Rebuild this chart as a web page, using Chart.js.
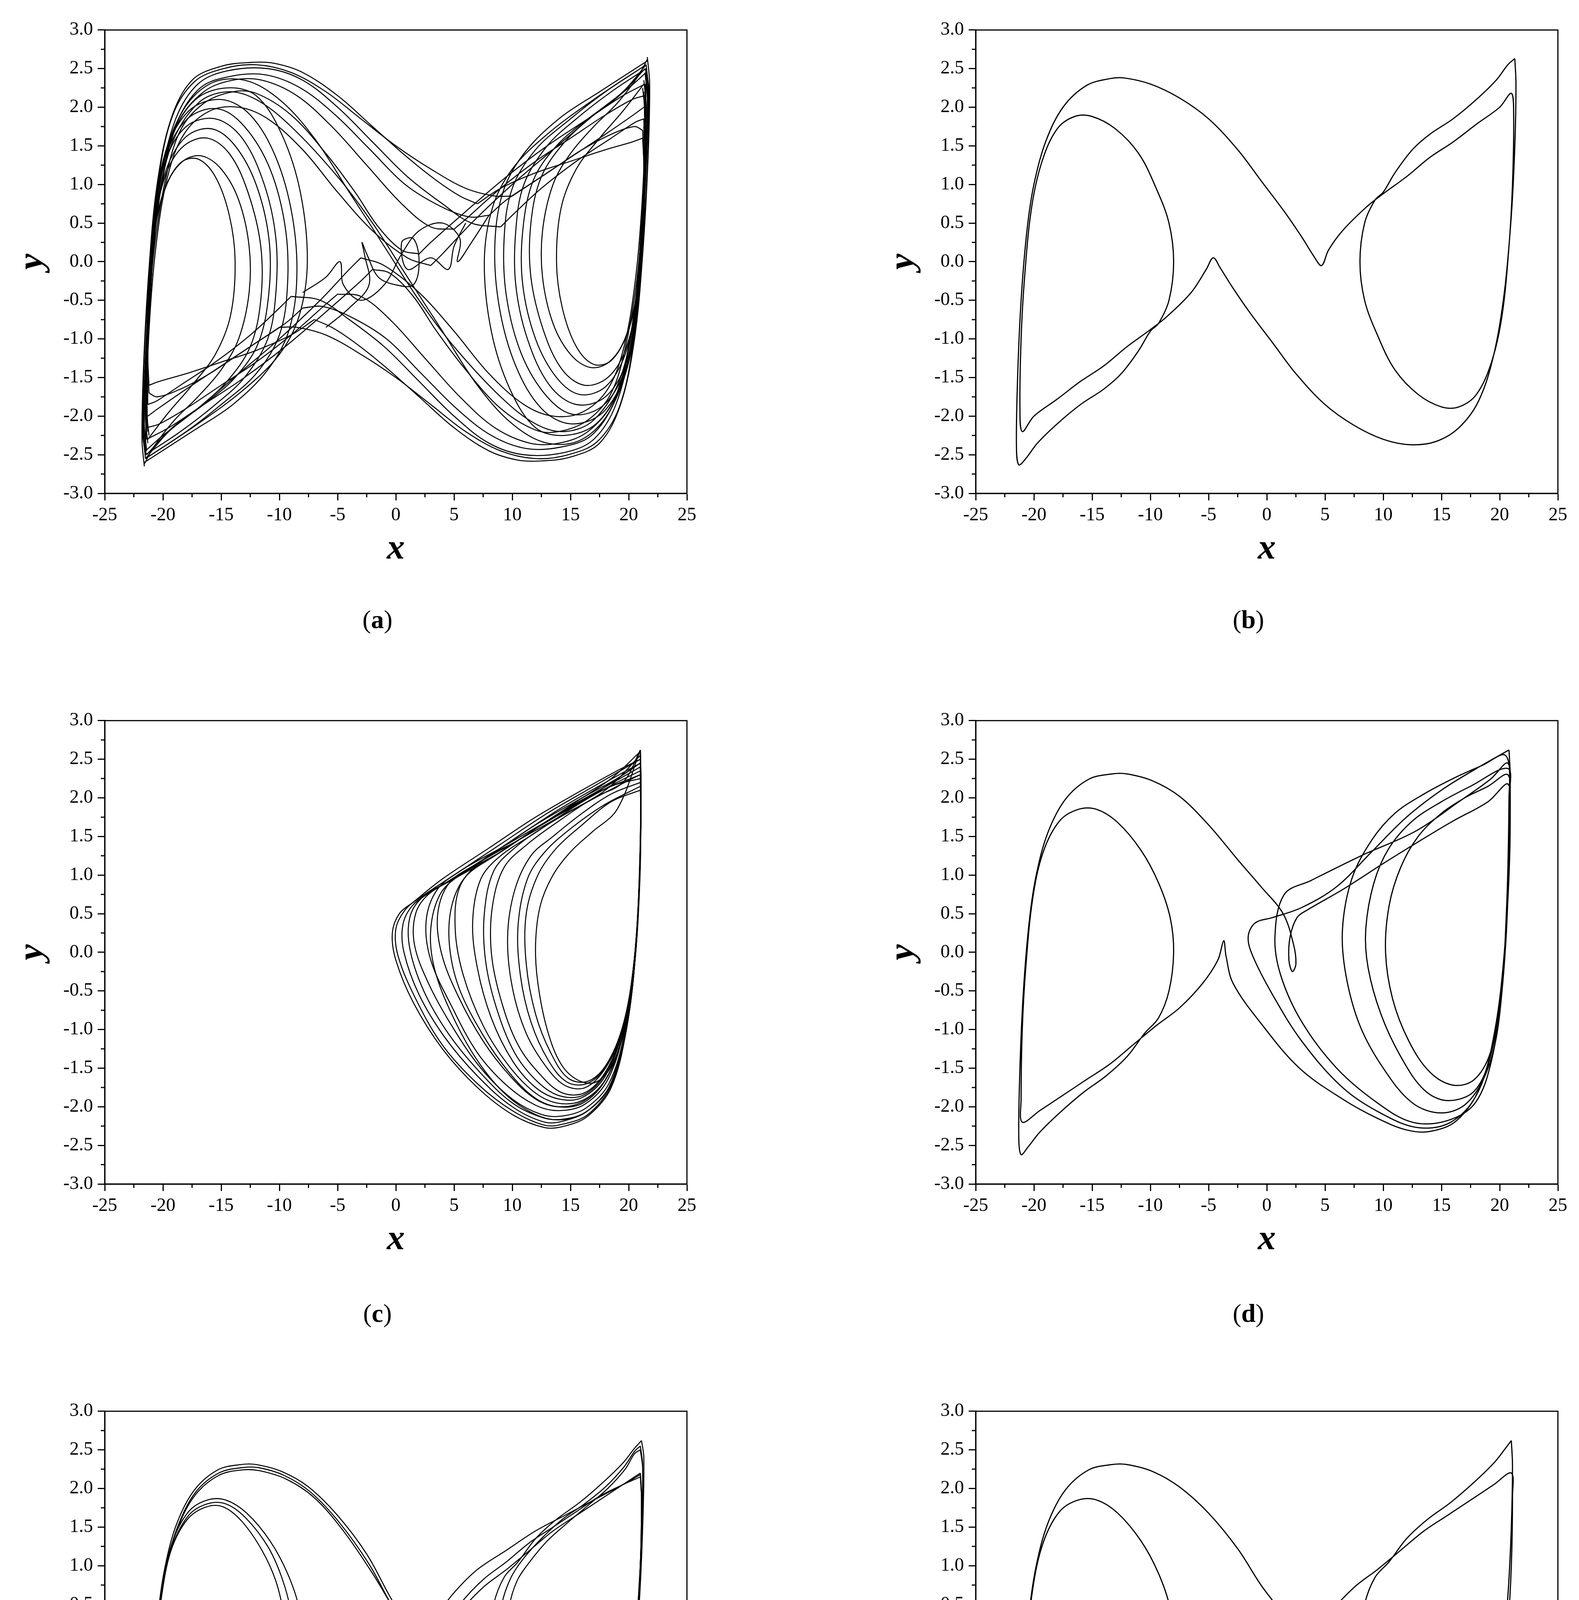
<!DOCTYPE html>
<html><head><meta charset="utf-8">
<script src="https://cdn.jsdelivr.net/npm/chart.js@4.4.1/dist/chart.umd.min.js"></script>
<style>
html,body{margin:0;padding:0;background:#fff;}
body{width:4041px;height:5203px;position:relative;overflow:hidden;}
.box{position:absolute;}
.cap{position:absolute;font-family:"Liberation Serif",serif;font-size:66px;color:#000;transform:translateX(-50%);white-space:nowrap;}
</style></head><body>
<script>
// ---------- axis ticks ----------
const xTicks = [-25,-20,-15,-10,-5,0,5,10,15,20,25];
const yTicks = [-3.0,-2.5,-2.0,-1.5,-1.0,-0.5,0.0,0.5,1.0,1.5,2.0,2.5,3.0];
const xMinor = [-22.5,-17.5,-12.5,-7.5,-2.5,2.5,7.5,12.5,17.5,22.5];
const yMinor = [-2.75,-2.25,-1.75,-1.25,-0.75,-0.25,0.25,0.75,1.25,1.75,2.25,2.75];
const captions = ["a","b","c","d","e","f"];

// ---------- panel (a): chaotic double scroll ----------
const aAL1=[-21.6,-2.65,-21.8,-2.3,-21.65,-1.3,-21.2,-0.1,-20.5,1.0,-19.3,1.85,-17.5,2.35,-15,2.53,-12.5,2.58,-10.5,2.57,-8,2.45,-5,2.15,-2,1.75,1,1.35,3.5,1.05,5.5,0.85,7,0.75];
const aAL2=[-21.5,-2.55,-21.7,-2.2,-21.5,-1.2,-21.0,0,-20.2,1.05,-18.9,1.85,-17,2.3,-14.5,2.47,-11,2.5,-8,2.35,-5,2.0,-2,1.55,1,1.1,4,0.75,6.5,0.5,9,0.45];
const aAL3=[-21.4,-2.45,-21.6,-2.1,-21.4,-1.1,-20.9,0.1,-20.0,1.1,-18.7,1.8,-16.5,2.2,-14,2.35,-11.5,2.35,-8.5,2.15,-5.5,1.75,-2.5,1.25,0.5,0.75,3,0.45,5,0.42];
const aAL4=[-21.3,-2.35,-21.5,-2.0,-21.3,-1.0,-20.8,0.1,-19.8,1.05,-18.5,1.7,-16.5,2.05,-14,2.2,-12,2.18,-9,1.9,-6,1.4,-3.5,0.9,-1.5,0.45,0.5,0.15,2,0.1];
const aAL5=[-21.2,-2.25,-21.4,-1.9,-21.2,-0.9,-20.6,0.2,-19.6,1.1,-18.2,1.65,-16,1.95,-13.5,2.0,-11,1.85,-8,1.45,-5,0.9,-2,0.4,1,0.05,3,-0.05];
const aAL6=[-21.5,-2.5,-21.75,-2.2,-21.6,-1.2,-21.1,0,-20.4,1.05,-19.2,1.88,-17.3,2.33,-14.8,2.5,-12,2.55,-9,2.45,-6,2.2,-3,1.85,0,1.5,3,1.2,6,0.95,8.5,0.85,10,0.85];
const aAL7=[-21.45,-2.5,-21.65,-2.15,-21.45,-1.15,-20.95,0.05,-20.1,1.05,-18.8,1.8,-16.8,2.25,-14.2,2.4,-11.2,2.42,-8.2,2.25,-5.2,1.9,-2.2,1.45,0.8,1.0,3.8,0.72,6.3,0.58,8,0.6];
const aAR1=[21.6,2.65,21.8,2.3,21.65,1.3,21.2,0.1,20.5,-1.0,19.3,-1.85,17.5,-2.35,15,-2.53,12.5,-2.58,10.5,-2.57,8,-2.45,5,-2.15,2,-1.75,-1,-1.35,-3.5,-1.05,-5.5,-0.85,-7,-0.75];
const aAR2=[21.5,2.55,21.7,2.2,21.5,1.2,21.0,0,20.2,-1.05,18.9,-1.85,17,-2.3,14.5,-2.47,11,-2.5,8,-2.35,5,-2.0,2,-1.55,-1,-1.1,-4,-0.75,-6.5,-0.5,-9,-0.45];
const aAR3=[21.4,2.45,21.6,2.1,21.4,1.1,20.9,-0.1,20.0,-1.1,18.7,-1.8,16.5,-2.2,14,-2.35,11.5,-2.35,8.5,-2.15,5.5,-1.75,2.5,-1.25,-0.5,-0.75,-3,-0.45,-5,-0.42];
const aAR4=[21.3,2.35,21.5,2.0,21.3,1.0,20.8,-0.1,19.8,-1.05,18.5,-1.7,16.5,-2.05,14,-2.2,12,-2.18,9,-1.9,6,-1.4,3.5,-0.9,1.5,-0.45,-0.5,-0.15,-2,-0.1];
const aAR5=[21.2,2.25,21.4,1.9,21.2,0.9,20.6,-0.2,19.6,-1.1,18.2,-1.65,16,-1.95,13.5,-2.0,11,-1.85,8,-1.45,5,-0.9,2,-0.4,-1,-0.05,-3,0.05];
const aAR6=[21.5,2.5,21.75,2.2,21.6,1.2,21.1,0,20.4,-1.05,19.2,-1.88,17.3,-2.33,14.8,-2.5,12,-2.55,9,-2.45,6,-2.2,3,-1.85,0,-1.5,-3,-1.2,-6,-0.95,-8.5,-0.85,-10,-0.85];
const aAR7=[21.45,2.5,21.65,2.15,21.45,1.15,20.95,-0.05,20.1,-1.05,18.8,-1.8,16.8,-2.25,14.2,-2.4,11.2,-2.42,8.2,-2.25,5.2,-1.9,2.2,-1.45,-0.8,-1.0,-3.8,-0.72,-6.3,-0.58,-8,-0.6];
const aCR1=[7,0.75,9,0.95,12,1.15,15,1.3,18,1.45,20.3,1.55,21.2,1.6];
const aCR2=[9,0.45,10,0.6,12.5,0.95,15.5,1.3,18.5,1.6,20.5,1.8,21.3,1.85];
const aCR3=[5,0.42,6,0.55,9,0.95,12,1.3,15,1.6,18,1.9,20.3,2.1,21.4,2.15];
const aCR4=[2,0.1,3,0.25,6,0.65,9.5,1.1,13,1.5,16.5,1.85,19.5,2.15,21.4,2.3];
const aCR5=[3,-0.05,4,0.1,6.5,0.5,10,1.0,13.5,1.45,17,1.9,20,2.25,21.5,2.45];
const aCR6=[10,0.85,11,0.95,13.5,1.2,16,1.45,18.5,1.65,20.5,1.75,21.2,1.7];
const aCR7=[8,0.6,9.5,0.8,12,1.05,15,1.35,18,1.65,20.4,1.9,21.3,2.0];
const aCL1=[-7,-0.75,-9,-0.95,-12,-1.15,-15,-1.3,-18,-1.45,-20.3,-1.55,-21.2,-1.6];
const aCL2=[-9,-0.45,-10,-0.6,-12.5,-0.95,-15.5,-1.3,-18.5,-1.6,-20.5,-1.8,-21.3,-1.85];
const aCL3=[-5,-0.42,-6,-0.55,-9,-0.95,-12,-1.3,-15,-1.6,-18,-1.9,-20.3,-2.1,-21.4,-2.15];
const aCL4=[-2,-0.1,-3,-0.25,-6,-0.65,-9.5,-1.1,-13,-1.5,-16.5,-1.85,-19.5,-2.15,-21.4,-2.3];
const aCL5=[-3,0.05,-4,-0.1,-6.5,-0.5,-10,-1.0,-13.5,-1.45,-17,-1.9,-20,-2.25,-21.5,-2.45];
const aCL6=[-10,-0.85,-11,-0.95,-13.5,-1.2,-16,-1.45,-18.5,-1.65,-20.5,-1.75,-21.2,-1.7];
const aCL7=[-8,-0.6,-9.5,-0.8,-12,-1.05,-15,-1.35,-18,-1.65,-20.4,-1.9,-21.3,-2.0];
const aRL1=[21.2,1.6,21.3,1.2,21.1,0.3,20.6,-0.5,19.7,-1.0,18.3,-1.3,16.7,-1.37,15,-1.2,13.5,-0.8,12.6,-0.2,12.6,0.4,13.5,1.0,15,1.4,17,1.75,19,2.05,20.8,2.4,21.6,2.62];
const aRL2=[21.3,1.85,21.35,1.4,21.2,0.4,20.7,-0.5,19.7,-1.15,18.2,-1.5,16.2,-1.6,14.3,-1.4,12.7,-0.9,11.6,-0.2,11.6,0.5,12.5,1.1,14.5,1.55,17,1.9,19.5,2.2,21.5,2.55];
const aRL3=[21.4,2.15,21.4,1.6,21.25,0.5,20.8,-0.5,19.8,-1.3,18,-1.75,15.5,-1.85,13.2,-1.6,11.3,-1.0,10.3,-0.3,10.3,0.4,11,1.0,13,1.5,15.5,1.85,18.5,2.2,21.5,2.5];
const aRL4=[21.4,2.3,21.45,1.7,21.3,0.6,20.8,-0.5,19.8,-1.4,17.8,-1.95,15,-2.1,12.5,-1.9,10.3,-1.35,8.9,-0.6,8.5,0.2,9.2,0.9,11,1.4,14,1.85,17.5,2.2,21.6,2.6];
const aRL5=[21.5,2.45,21.4,1.6,21.2,0.5,20.7,-0.4,19.8,-0.95,18.5,-1.28,17,-1.33,15.5,-1.1,14.3,-0.6,13.8,0,14.2,0.7,15.5,1.2,17.5,1.6,19.5,1.95,21.3,2.3];
const aRL6=[21.2,1.7,21.3,1.2,21.1,0.2,20.5,-0.8,19.3,-1.6,17.2,-2.1,14.5,-2.25,12,-2.15,9.8,-1.65,8.2,-0.9,7.6,0,8.3,0.7,10,1.2,13,1.65,17,2.1,21.5,2.55];
const aRL7=[21.3,1.75,21.35,1.3,21.2,0.4,20.7,-0.5,19.7,-1.2,18,-1.62,15.8,-1.72,13.8,-1.5,12,-1.0,10.9,-0.3,10.9,0.4,11.8,1.05,13.8,1.5,16.5,1.85,19.2,2.15,21.4,2.5];
const aRL8=[21.35,2.0,21.4,1.5,21.25,0.5,20.8,-0.5,19.8,-1.35,17.9,-1.85,15.3,-1.98,13,-1.75,10.8,-1.2,9.5,-0.45,9.3,0.3,10,0.95,12,1.45,15,1.85,18,2.2,21.5,2.55];
const aLL1=[-21.2,-1.6,-21.3,-1.2,-21.1,-0.3,-20.6,0.5,-19.7,1.0,-18.3,1.3,-16.7,1.37,-15,1.2,-13.5,0.8,-12.6,0.2,-12.6,-0.4,-13.5,-1.0,-15,-1.4,-17,-1.75,-19,-2.05,-20.8,-2.4,-21.6,-2.62];
const aLL2=[-21.3,-1.85,-21.35,-1.4,-21.2,-0.4,-20.7,0.5,-19.7,1.15,-18.2,1.5,-16.2,1.6,-14.3,1.4,-12.7,0.9,-11.6,0.2,-11.6,-0.5,-12.5,-1.1,-14.5,-1.55,-17,-1.9,-19.5,-2.2,-21.5,-2.55];
const aLL3=[-21.4,-2.15,-21.4,-1.6,-21.25,-0.5,-20.8,0.5,-19.8,1.3,-18,1.75,-15.5,1.85,-13.2,1.6,-11.3,1.0,-10.3,0.3,-10.3,-0.4,-11,-1.0,-13,-1.5,-15.5,-1.85,-18.5,-2.2,-21.5,-2.5];
const aLL4=[-21.4,-2.3,-21.45,-1.7,-21.3,-0.6,-20.8,0.5,-19.8,1.4,-17.8,1.95,-15,2.1,-12.5,1.9,-10.3,1.35,-8.9,0.6,-8.5,-0.2,-9.2,-0.9,-11,-1.4,-14,-1.85,-17.5,-2.2,-21.6,-2.6];
const aLL5=[-21.5,-2.45,-21.4,-1.6,-21.2,-0.5,-20.7,0.4,-19.8,0.95,-18.5,1.28,-17,1.33,-15.5,1.1,-14.3,0.6,-13.8,0,-14.2,-0.7,-15.5,-1.2,-17.5,-1.6,-19.5,-1.95,-21.3,-2.3];
const aLL6=[-21.2,-1.7,-21.3,-1.2,-21.1,-0.2,-20.5,0.8,-19.3,1.6,-17.2,2.1,-14.5,2.25,-12,2.15,-9.8,1.65,-8.2,0.9,-7.6,0,-8.3,-0.7,-10,-1.2,-13,-1.65,-17,-2.1,-21.5,-2.55];
const aLL7=[-21.3,-1.75,-21.35,-1.3,-21.2,-0.4,-20.7,0.5,-19.7,1.2,-18,1.62,-15.8,1.72,-13.8,1.5,-12,1.0,-10.9,0.3,-10.9,-0.4,-11.8,-1.05,-13.8,-1.5,-16.5,-1.85,-19.2,-2.15,-21.4,-2.5];
const aLL8=[-21.35,-2.0,-21.4,-1.5,-21.25,-0.5,-20.8,0.5,-19.8,1.35,-17.9,1.85,-15.3,1.98,-13,1.75,-10.8,1.2,-9.5,0.45,-9.3,-0.3,-10,-0.95,-12,-1.45,-15,-1.85,-18,-2.2,-21.5,-2.55];
const aS1=[-21.3,-2.2,-21.4,-1.6,-21.1,-0.5,-20.5,0.6,-19.3,1.5,-17,2.05,-14.5,2.2,-12,2.1,-9,1.75,-5,1.1,-2,0.5,1,-0.2,4,-0.9,7,-1.6,10,-2.1,13,-2.35,16,-2.3,18.5,-1.9,20.3,-1.1,21.2,0.2,21.5,2.0];
const aS2=[21.3,2.2,21.4,1.6,21.1,0.5,20.5,-0.6,19.3,-1.5,17,-2.05,14.5,-2.2,12,-2.1,9,-1.75,5,-1.1,2,-0.5,-1,0.2,-4,0.9,-7,1.6,-10,2.1,-13,2.35,-16,2.3,-18.5,1.9,-20.3,1.1,-21.2,-0.2,-21.5,-2.0];
const aMid1=[-6,-0.85,-4,-0.6,-2.3,-0.3,-2.7,0.1,-2.9,0.25,-2.5,0.1,-1.5,-0.2,0,-0.3,1.5,-0.3,2,0,1.5,0.3,0.5,0.25,1,-0.1,3,0.05,4.5,-0.1,5,0.2,6,0.5];
const aMid2=[-8,-0.4,-6,-0.2,-4.8,0.0,-4.5,-0.3,-3,-0.5,-1,-0.3,0.5,0.1,2,0.4,4,0.5,5.5,0.3,5.3,0.0,6.5,0.25,8,0.6];
const curvesA=[aAL1,aAL2,aAL3,aAL4,aAL5,aAL6,aAL7,aAR1,aAR2,aAR3,aAR4,aAR5,aAR6,aAR7,aCR1,aCR2,aCR3,aCR4,aCR5,aCR6,aCR7,aCL1,aCL2,aCL3,aCL4,aCL5,aCL6,aCL7,aRL1,aRL2,aRL3,aRL4,aRL5,aRL6,aRL7,aRL8,aLL1,aLL2,aLL3,aLL4,aLL5,aLL6,aLL7,aLL8,aS1,aS2,aMid1,aMid2];

// ---------- panel (b): periodic orbit ----------
const bOrbit=[21.3,2.63,21.4,2.3,21.3,1.5,21.0,0.6,20.4,-0.4,19.5,-1.2,18.2,-1.8,16.5,-2.15,14.5,-2.33,12.3,-2.37,10,-2.3,7.5,-2.12,5,-1.85,2.5,-1.45,0.5,-1.05,-1.5,-0.65,-3,-0.32,-4,-0.08,-4.6,0.05,-5.2,-0.1,-6.5,-0.4,-8.5,-0.7,-10,-0.88,-12,-1.1,-14,-1.35,-16,-1.55,-18,-1.78,-20,-2.0,-21,-2.2,-21.2,-1.9,-21.1,-1.0,-20.8,-0.2,-20.2,0.7,-19.3,1.3,-18,1.72,-16.5,1.88,-15,1.88,-13,1.72,-11,1.4,-9.5,0.95,-8.4,0.5,-8,0.0,-8.4,-0.5,-9.3,-0.8,-10,-0.9,-11,-1.15,-12.5,-1.45,-14,-1.65,-16,-1.85,-18,-2.1,-19.7,-2.35,-20.7,-2.55,-21.3,-2.63,-21.5,-2.4,-21.4,-1.5,-21.1,-0.5,-20.6,0.4,-20,1.0,-19,1.55,-17.5,2.0,-15.5,2.28,-13.5,2.37,-12.3,2.38,-10,2.3,-7.5,2.12,-5,1.85,-2.5,1.45,-0.5,1.05,1.5,0.65,3,0.32,4,0.08,4.7,-0.05,5.3,0.15,6.5,0.4,8.5,0.7,10,0.88,12,1.1,14,1.35,16,1.55,18,1.78,20,2.0,21,2.18,21.2,1.9,21.1,1.0,20.8,0.2,20.2,-0.7,19.3,-1.3,18,-1.72,16.5,-1.88,15,-1.88,13,-1.72,11,-1.4,9.5,-0.95,8.4,-0.5,8,0,8.4,0.5,9.3,0.8,10,0.9,11,1.15,12.5,1.45,14,1.65,16,1.85,18,2.1,19.7,2.35,20.7,2.55,21.3,2.63];
const curvesB=[bOrbit];

// ---------- panel (c): single-scroll chaotic ----------
const c1=[21,2.62,21.05,2.2,20.95,1.2,20.6,0,19.8,-1.0,18.5,-1.75,16.5,-2.12,14.5,-2.25,12.8,-2.27,10,-2.1,7,-1.75,4,-1.25,1.5,-0.65,0,-0.1,-0.3,0.25,0.3,0.5,1.5,0.65,4,0.95,8,1.35,12,1.75,16,2.1,19,2.35,21,2.5];
const c2=[21,2.5,21.05,2.1,20.95,1.1,20.6,0,19.8,-1.0,18.5,-1.7,16.5,-2.05,14.5,-2.18,12.8,-2.2,10,-2.0,7,-1.6,4.2,-1.1,2,-0.55,0.7,0,0.6,0.35,1.4,0.6,3,0.78,6,1.05,10,1.45,14,1.85,18,2.2,21,2.45];
const c3=[21,2.45,21.05,2.0,20.95,1.0,20.55,0,19.7,-1.0,18.3,-1.7,16.3,-2.02,14.3,-2.12,12.5,-2.1,10,-1.9,7.3,-1.5,4.8,-0.95,2.8,-0.4,1.6,0.1,1.7,0.5,2.8,0.75,5,0.95,8.5,1.25,12,1.6,16,1.95,19,2.2,21,2.35];
const c4=[21,2.35,21.05,1.9,20.9,0.9,20.5,-0.1,19.6,-1.0,18.2,-1.65,16.2,-1.97,14,-2.05,12,-1.98,9.5,-1.72,7,-1.3,4.8,-0.7,3.0,-0.1,2.6,0.4,3.5,0.8,5.5,1.05,9,1.35,13,1.7,17,2.05,21,2.3];
const c5=[21,2.3,21.05,1.8,20.9,0.8,20.5,-0.1,19.6,-1.0,18.2,-1.6,16.2,-1.92,14,-2.0,12,-1.9,9.8,-1.6,7.5,-1.15,5.3,-0.55,3.9,0,3.6,0.5,4.6,0.9,7,1.15,10.5,1.45,14,1.75,18,2.1,21,2.55];
const c6=[21,2.55,21.05,2.0,20.9,0.8,20.45,-0.2,19.5,-1.05,18,-1.65,16,-1.92,13.8,-1.95,11.8,-1.8,9.6,-1.45,7.5,-0.95,5.8,-0.3,5.1,0.3,5.5,0.85,7.5,1.2,10.5,1.45,14,1.8,17.5,2.1,21,2.4];
const c7=[21,2.4,21.05,1.9,20.9,0.8,20.45,-0.2,19.5,-1.0,18,-1.6,16,-1.88,14,-1.9,12,-1.75,10,-1.4,8.2,-0.85,7,-0.2,6.6,0.4,7.3,0.95,9,1.25,12,1.55,15.5,1.9,18.5,2.15,21,2.25];
const c8=[21,2.25,21.05,1.8,20.9,0.8,20.4,-0.2,19.5,-1.0,18,-1.55,16.2,-1.82,14.3,-1.82,12.5,-1.6,10.5,-1.2,9,-0.6,8.2,0,8.3,0.6,9.3,1.1,11.3,1.4,14,1.7,17,2.0,19.5,2.2,21,2.62];
const c9=[21,2.62,21.05,2.1,20.9,0.9,20.4,-0.2,19.5,-1.0,18,-1.5,16.3,-1.75,14.6,-1.73,13,-1.5,11.2,-1.05,10,-0.45,9.6,0.2,10.2,0.8,11.6,1.25,13.5,1.5,16,1.8,18.5,2.05,21,2.2];
const c10=[21,2.2,21.05,1.8,20.9,0.8,20.4,-0.2,19.5,-0.95,18.1,-1.45,16.5,-1.67,14.8,-1.63,13.3,-1.3,12,-0.8,11.2,-0.15,11.2,0.5,12.2,1.0,13.8,1.35,16,1.65,18.5,1.95,21,2.1];
const c11=[21,2.1,21.05,1.7,20.95,0.9,20.6,0,19.8,-0.9,18.6,-1.45,17.2,-1.68,15.7,-1.66,14.2,-1.45,13,-1.0,12.2,-0.4,12.0,0.1,12.4,0.6,13.5,1.0,15,1.3,16.8,1.55,19,1.85,21,2.62];
const c12=[21,2.62,21.05,2.2,20.95,1.1,20.55,0,19.7,-1.0,18.3,-1.75,16.2,-2.08,14,-2.17,12,-2.1,9.5,-1.85,7,-1.4,4.8,-0.8,3.3,-0.2,3,0.3,3.8,0.75,5.5,1.0,9,1.3,13,1.7,17,2.05,21,2.45];
const c13=[21,2.45,21.05,2.1,20.95,1.1,20.6,0,19.8,-1.0,18.5,-1.72,16.5,-2.1,14.5,-2.22,12.8,-2.24,10,-2.05,7,-1.7,4,-1.2,1.7,-0.6,0.2,-0.05,0.0,0.3,0.8,0.55,2,0.7,5,1.0,9,1.4,13,1.8,17,2.15,21,2.5];
const c14=[21,2.4,21.05,1.95,20.9,0.85,20.5,-0.15,19.6,-1.02,18.1,-1.63,16.1,-1.95,13.9,-2.0,11.9,-1.88,9.7,-1.55,7.4,-1.05,5.4,-0.45,4.6,0.1,4.8,0.6,6,0.98,8.5,1.25,12,1.6,15.5,1.95,18.5,2.25,21,2.6];
const c15=[21,2.6,21.05,2.0,20.9,0.8,20.45,-0.2,19.5,-1.0,18,-1.57,16.1,-1.85,14.1,-1.86,12.2,-1.68,10.2,-1.3,8.6,-0.7,7.7,-0.1,7.6,0.5,8.4,1.05,10.2,1.35,13,1.65,16.5,1.95,19,2.15,21,2.3];
const c16=[21,2.3,21.05,1.8,20.9,0.8,20.4,-0.2,19.5,-0.98,18.05,-1.48,16.4,-1.7,14.7,-1.68,13.1,-1.4,11.6,-0.9,10.7,-0.3,10.5,0.35,11.3,0.95,12.8,1.3,15,1.6,17.8,1.9,21,2.15];
const c17=[21,2.15,21.05,1.8,20.95,1.0,20.55,0,19.7,-1.0,18.4,-1.72,16.4,-2.06,14.4,-2.16,12.6,-2.14,10,-1.95,7.2,-1.55,4.5,-1.05,2.4,-0.5,1.2,0.05,1.2,0.45,2.2,0.7,4.5,0.92,8,1.25,12,1.65,16,2.0,19,2.25,21,2.45];
const curvesC=[c1,c2,c3,c4,c5,c6,c7,c8,c9,c10,c11,c12,c13,c14,c15,c16,c17];

// ---------- panel (d): multi-loop periodic orbit ----------
const dOrbit=[20.8,2.62,20.9,2.3,20.85,1.2,20.4,0,19.6,-1.0,18.3,-1.75,16.3,-2.18,14,-2.32,12,-2.3,9.5,-2.15,6.5,-1.9,2.8,-1.5,-0.5,-0.92,-2.9,-0.4,-3.5,-0.05,-3.7,0.15,
-4.2,-0.1,-5.5,-0.4,-7.5,-0.72,-9.5,-0.95,-11.5,-1.2,-13.5,-1.45,-15.5,-1.65,-17.5,-1.85,-19.5,-2.05,-21,-2.2,
-21.1,-1.9,-21.0,-1.0,-20.7,-0.2,-20.1,0.7,-19.2,1.3,-17.8,1.7,-16.2,1.85,-14.6,1.85,-12.8,1.68,-10.8,1.32,-9.3,0.9,-8.3,0.45,-8,0.0,-8.4,-0.5,-9.3,-0.85,-10.5,-1.05,-12,-1.35,-13.8,-1.6,-15.8,-1.82,-17.8,-2.08,-19.5,-2.33,-20.5,-2.52,-21.1,-2.62,
-21.3,-2.4,-21.2,-1.5,-20.9,-0.5,-20.4,0.4,-19.8,1.0,-18.8,1.55,-17.3,1.98,-15.3,2.24,-13.3,2.31,-12,2.31,-9.8,2.22,-7.5,2.02,-5,1.65,-2.5,1.2,-0.5,0.85,1.4,0.5,2.3,0.1,2.5,-0.15,2.2,-0.25,1.9,-0.1,2.0,0.2,2.6,0.45,3.5,0.55,6.6,0.82,10,1.15,13,1.43,16,1.7,19,1.95,20.7,2.18,
20.8,1.8,20.6,0.6,20.1,-0.6,19.2,-1.3,17.8,-1.65,16,-1.72,14,-1.55,12.2,-1.15,10.8,-0.6,10.2,0,10.5,0.6,11.5,1.1,13,1.5,15,1.8,17,2.0,19,2.15,20.7,2.3,
20.8,1.9,20.7,0.7,20.2,-0.5,19.3,-1.4,17.9,-1.95,15.5,-2.18,12.5,-2.2,9.5,-1.95,6,-1.5,3,-0.9,1.2,-0.3,0.7,0.2,1.5,0.75,3.8,0.93,8.1,1.25,12.8,1.57,16.5,1.95,19.2,2.24,20.7,2.45,
20.8,2.0,20.6,0.6,20.1,-0.6,19.2,-1.35,17.8,-1.8,15.5,-1.92,13.5,-1.78,11.5,-1.35,9.8,-0.8,8.7,-0.2,8.5,0.3,9.2,0.9,10.5,1.35,12.5,1.7,15,1.95,17.5,2.15,20.7,2.38,
20.8,2.0,20.6,0.6,20.0,-0.8,19,-1.5,17.2,-1.95,15,-2.08,12.5,-1.95,10,-1.5,8,-0.95,6.8,-0.3,6.5,0.3,7.3,0.95,9,1.45,11,1.8,13.5,2.05,16,2.25,18.5,2.42,20.5,2.55,
20.85,2.1,20.75,0.9,20.3,-0.3,19.4,-1.2,18,-1.85,15.8,-2.2,13,-2.27,10,-2.1,6.5,-1.75,3,-1.15,0.5,-0.55,-1.2,-0.05,-1.6,0.2,-1.0,0.38,0.5,0.45,3,0.58,6,0.85,9,1.3,12,1.75,15,2.1,18,2.38,20.8,2.62];
const curvesD=[dOrbit];

// ---------- panel (e): chaotic, banded ----------
const eO1=[-21.1,-2.62,-21.3,-2.4,-21.2,-1.5,-20.9,-0.5,-20.4,0.4,-19.8,1.0,-18.8,1.55,-17.3,1.98,-15.3,2.24,-13.3,2.31,-12,2.31,-9.8,2.22,-7.5,2.02,-5,1.65,-2.5,1.15,-0.5,0.6,1.5,0.1,2.8,-0.2,3.6,-0.3];
const eO2=[-21,-2.55,-21.2,-2.3,-21.1,-1.4,-20.8,-0.5,-20.3,0.4,-19.7,1.0,-18.7,1.52,-17.2,1.95,-15.2,2.2,-13.2,2.27,-11.8,2.27,-9.6,2.17,-7.3,1.95,-4.8,1.55,-2.3,1.02,-0.4,0.5,1.4,0.05,2.5,-0.15,3.2,-0.2];
const eO3=[-21,-2.5,-21.2,-2.25,-21.1,-1.4,-20.8,-0.5,-20.3,0.4,-19.7,0.98,-18.7,1.5,-17.2,1.92,-15.2,2.17,-13.2,2.24,-11.7,2.23,-9.4,2.12,-7,1.88,-4.5,1.45,-2,0.9,0,0.4,1.8,0.0,2.8,-0.05,3.5,0.0];
const eR1=[21.1,2.62,21.3,2.4,21.2,1.5,20.9,0.5,20.4,-0.4,19.8,-1.0,18.8,-1.55,17.3,-1.98,15.3,-2.24,13.3,-2.31,12,-2.31,9.8,-2.22,7.5,-2.02,5,-1.65,2.5,-1.15,0.5,-0.6,-1.5,-0.1,-2.8,0.2,-3.6,0.3];
const eR2=[21,2.55,21.2,2.3,21.1,1.4,20.8,0.5,20.3,-0.4,19.7,-1.0,18.7,-1.52,17.2,-1.95,15.2,-2.2,13.2,-2.27,11.8,-2.27,9.6,-2.17,7.3,-1.95,4.8,-1.55,2.3,-1.02,0.4,-0.5,-1.4,-0.05,-2.5,0.15,-3.2,0.2];
const eR3=[21,2.5,21.2,2.25,21.1,1.4,20.8,0.5,20.3,-0.4,19.7,-0.98,18.7,-1.5,17.2,-1.92,15.2,-2.17,13.2,-2.24,11.7,-2.23,9.4,-2.12,7,-1.88,4.5,-1.45,2,-0.9,0,-0.4,-1.8,0.0,-2.8,0.05,-3.5,0.0];
const eCL1=[-3.5,0.12,-4.2,-0.1,-5.5,-0.4,-7.5,-0.72,-9.5,-0.95,-11.5,-1.2,-13.5,-1.45,-15.5,-1.65,-17.5,-1.85,-19.5,-2.05,-21,-2.2];
const eCL2=[-3.2,0.1,-4,-0.15,-5.5,-0.5,-7.5,-0.82,-9.5,-1.05,-11.5,-1.3,-13.5,-1.5,-15.5,-1.7,-17.5,-1.9,-19.5,-2.05,-21,-2.15];
const eCL3=[-2.5,-0.1,-3.5,-0.35,-5,-0.65,-7,-0.95,-9.5,-1.2,-12,-1.45,-14.5,-1.65,-17,-1.85,-19.5,-2.05,-21,-2.18];
const eCR1=[3.5,-0.12,4.2,0.1,5.5,0.4,7.5,0.72,9.5,0.95,11.5,1.2,13.5,1.45,15.5,1.65,17.5,1.85,19.5,2.05,21,2.2];
const eCR2=[3.2,-0.1,4,0.15,5.5,0.5,7.5,0.82,9.5,1.05,11.5,1.3,13.5,1.5,15.5,1.7,17.5,1.9,19.5,2.05,21,2.15];
const eCR3=[2.5,0.1,3.5,0.35,5,0.65,7,0.95,9.5,1.2,12,1.45,14.5,1.65,17,1.85,19.5,2.05,21,2.18];
const eL1=[-21,-2.2,-21.1,-1.9,-21.0,-1.0,-20.7,-0.2,-20.1,0.7,-19.2,1.3,-17.8,1.7,-16.2,1.85,-14.6,1.85,-12.8,1.68,-10.8,1.32,-9.3,0.9,-8.3,0.45,-8,0.0,-8.4,-0.5,-9.3,-0.85,-10.5,-1.05,-12,-1.35,-13.8,-1.6,-15.8,-1.82,-17.8,-2.08,-19.5,-2.33,-20.5,-2.52,-21.1,-2.62];
const eL2=[-21,-2.15,-21.1,-1.85,-21.0,-1.0,-20.7,-0.2,-20.1,0.65,-19.2,1.25,-17.8,1.65,-16.2,1.8,-14.6,1.8,-12.9,1.62,-11,1.25,-9.8,0.85,-9.0,0.4,-8.8,0.0,-9.1,-0.5,-9.9,-0.85,-11,-1.1,-12.5,-1.35,-14.3,-1.6,-16.2,-1.8,-18,-2.02,-19.6,-2.28,-20.5,-2.48,-21,-2.55];
const eL3=[-21,-2.18,-21.1,-1.85,-21.0,-1.0,-20.7,-0.2,-20.1,0.62,-19.3,1.2,-17.9,1.6,-16.3,1.76,-14.8,1.76,-13.2,1.57,-11.5,1.2,-10.3,0.8,-9.6,0.35,-9.4,0.0,-9.7,-0.45,-10.4,-0.8,-11.5,-1.05,-13,-1.32,-14.7,-1.55,-16.5,-1.78,-18.2,-2.0,-19.7,-2.25,-20.5,-2.45,-21,-2.5];
const eRL1=[21,2.2,21.1,1.9,21.0,1.0,20.7,0.2,20.1,-0.7,19.2,-1.3,17.8,-1.7,16.2,-1.85,14.6,-1.85,12.8,-1.68,10.8,-1.32,9.3,-0.9,8.3,-0.45,8,0.0,8.4,0.5,9.3,0.85,10.5,1.05,12,1.35,13.8,1.6,15.8,1.82,17.8,2.08,19.5,2.33,20.5,2.52,21.1,2.62];
const eRL2=[21,2.15,21.1,1.85,21.0,1.0,20.7,0.2,20.1,-0.65,19.2,-1.25,17.8,-1.65,16.2,-1.8,14.6,-1.8,12.9,-1.62,11,-1.25,9.8,-0.85,9.0,-0.4,8.8,0.0,9.1,0.5,9.9,0.85,11,1.1,12.5,1.35,14.3,1.6,16.2,1.8,18,2.02,19.6,2.28,20.5,2.48,21,2.55];
const eRL3=[21,2.18,21.1,1.85,21.0,1.0,20.7,0.2,20.1,-0.62,19.3,-1.2,17.9,-1.6,16.3,-1.76,14.8,-1.76,13.2,-1.57,11.5,-1.2,10.3,-0.8,9.6,-0.35,9.4,0.0,9.7,0.45,10.4,0.8,11.5,1.05,13,1.32,14.7,1.55,16.5,1.78,18.2,2.0,19.7,2.25,20.5,2.45,21,2.5];
const eM1=[-3.6,0.12,-2.5,0.3,-1.5,0.3,-1,0,-1.5,-0.3,-2.2,-0.2,-1.8,0.1,-0.5,0.2,0.5,0.0,0.3,-0.3,-0.3,-0.2,0.5,0.1,1.8,0.1,2.5,-0.2,3.6,-0.12];
const eM2=[-3.2,0.1,-2,0.25,-0.5,0.4,0.8,0.3,1.2,0,0.8,-0.25,0.3,-0.1,1.5,0.2,2.5,0.15,3,-0.1,2.5,-0.35,1.5,-0.3];
const eM3=[-3,0.15,-2.6,-0.1,-2,-0.3,-1,-0.35,0,-0.15,-0.4,0.2,0.5,0.45,2,0.45,2.6,0.1,2.2,-0.2,3.2,-0.3];
const curvesE=[eO1,eO2,eO3,eR1,eR2,eR3,eCL1,eCL2,eCL3,eCR1,eCR2,eCR3,eL1,eL2,eL3,eRL1,eRL2,eRL3,eM1,eM2,eM3];

// ---------- panel (f): periodic orbit ----------
const fOrbit=[21,2.62,21.1,2.3,21.0,1.5,20.7,0.6,20.1,-0.4,19.2,-1.2,17.9,-1.8,16.2,-2.12,14.2,-2.28,12,-2.3,9.8,-2.2,7.5,-2.0,5,-1.65,2.5,-1.2,0.5,-0.75,-1.5,-0.35,-2.8,-0.05,-3.6,0.12,
-4.2,-0.1,-5.5,-0.4,-7.5,-0.72,-9.5,-0.95,-11.5,-1.2,-13.5,-1.45,-15.5,-1.65,-17.5,-1.85,-19.5,-2.05,-21,-2.2,
-21.1,-1.9,-21.0,-1.0,-20.7,-0.2,-20.1,0.7,-19.2,1.3,-17.8,1.7,-16.2,1.85,-14.6,1.85,-12.8,1.68,-10.8,1.32,-9.3,0.9,-8.3,0.45,-8,0.0,-8.4,-0.5,-9.3,-0.85,-10.5,-1.05,-12,-1.35,-13.8,-1.6,-15.8,-1.82,-17.8,-2.08,-19.5,-2.33,-20.5,-2.52,-21.1,-2.62,
-21.3,-2.4,-21.2,-1.5,-20.9,-0.5,-20.4,0.4,-19.8,1.0,-18.8,1.55,-17.3,1.98,-15.3,2.24,-13.3,2.31,-12,2.31,-9.8,2.22,-7.5,2.02,-5,1.68,-2.5,1.22,-0.5,0.75,1.5,0.35,2.8,0.05,3.6,-0.12,
4.2,0.1,5.5,0.4,7.5,0.72,9.5,0.95,11.5,1.2,13.5,1.45,15.5,1.65,17.5,1.85,19.5,2.05,21,2.2,
21.1,1.9,21.0,1.0,20.7,0.2,20.1,-0.7,19.2,-1.3,17.8,-1.7,16.2,-1.85,14.6,-1.85,12.8,-1.68,10.8,-1.32,9.3,-0.9,8.3,-0.45,8,0.0,8.4,0.5,9.3,0.85,10.5,1.05,12,1.35,13.8,1.6,15.8,1.82,17.8,2.08,19.5,2.33,20.5,2.52,21,2.62];
const curvesF=[fOrbit];

// ---------- layout ----------
const panels=[
 {curves:curvesA,left:268, top:66,  lw:2.6, tension:0.35},
 {curves:curvesB,left:2497,top:66,  lw:3,   tension:0.35},
 {curves:curvesC,left:268, top:1834,lw:2.6, tension:0.35},
 {curves:curvesD,left:2497,top:1834,lw:3,   tension:0.35},
 {curves:curvesE,left:268, top:3602,lw:2.6, tension:0.35},
 {curves:curvesF,left:2497,top:3602,lw:3,   tension:0.35}
];
const capTop=[1548,1548,3324,3324,5092,5092];
const PW=1490, PH=1197, YW=230, XH=210, PT=30, PR=40;

function pairs(flat){const o=[];for(let i=0;i<flat.length;i+=2)o.push({x:flat[i],y:flat[i+1]});return o;}

const framePlugin={id:'frame',afterDraw(chart){
  const {ctx,chartArea:a,scales}=chart;
  ctx.save();ctx.strokeStyle='#000';ctx.lineWidth=3;
  ctx.strokeRect(a.left,a.top,a.right-a.left,a.bottom-a.top);
  ctx.beginPath();
  xMinor.forEach(v=>{const p=scales.x.getPixelForValue(v);ctx.moveTo(p,a.bottom);ctx.lineTo(p,a.bottom+10);});
  yMinor.forEach(v=>{const p=scales.y.getPixelForValue(v);ctx.moveTo(a.left,p);ctx.lineTo(a.left-10,p);});
  ctx.stroke();ctx.restore();
}};

const tickFont={family:'"Liberation Serif", serif',size:48};
const titleFont={family:'"Liberation Serif", serif',size:92,weight:'bold',style:'italic',lineHeight:1};

panels.forEach((p,i)=>{
  const box=document.createElement('div');box.className='box';
  const w=YW+PW+PR,h=PT+PH+XH;
  box.style.left=(p.left-YW)+'px';box.style.top=(p.top-PT)+'px';
  box.style.width=w+'px';box.style.height=h+'px';
  const cv=document.createElement('canvas');box.appendChild(cv);document.body.appendChild(box);
  new Chart(cv,{type:'scatter',
    data:{datasets:p.curves.map(c=>({data:pairs(c),showLine:true,pointRadius:0,borderColor:'#000',borderWidth:p.lw,tension:p.tension,fill:false}))},
    options:{responsive:true,maintainAspectRatio:false,animation:false,devicePixelRatio:1,
      layout:{padding:{top:PT,right:PR,left:0,bottom:0}},
      plugins:{legend:{display:false},tooltip:{enabled:false}},
      scales:{
        x:{type:'linear',min:-25,max:25,afterFit:s=>{s.height=XH;},
          afterBuildTicks:s=>{s.ticks=xTicks.map(v=>({value:v}));},
          ticks:{font:tickFont,color:'#000',padding:10,maxRotation:0,autoSkip:false,callback:v=>String(v)},
          grid:{drawOnChartArea:false,drawTicks:true,tickLength:18,tickWidth:3,tickColor:'#000'},
          border:{display:true,color:'#000',width:3},
          title:{display:true,text:'x',font:titleFont,color:'#000',padding:{top:0,bottom:21}}},
        y:{type:'linear',min:-3,max:3,afterFit:s=>{s.width=YW;},
          afterBuildTicks:s=>{s.ticks=yTicks.map(v=>({value:v}));},
          ticks:{font:tickFont,color:'#000',padding:12,autoSkip:false,callback:v=>Number(v).toFixed(1)},
          grid:{drawOnChartArea:false,drawTicks:true,tickLength:18,tickWidth:3,tickColor:'#000'},
          border:{display:true,color:'#000',width:3},
          title:{display:true,text:'y',font:titleFont,color:'#000',padding:{top:0,bottom:0}}}
      }},
    plugins:[framePlugin]});
  const cap=document.createElement('div');cap.className='cap';
  cap.style.left=(p.left+PW/2-47)+'px';cap.style.top=capTop[i]+'px';
  cap.innerHTML='(<b>'+captions[i]+'</b>)';
  document.body.appendChild(cap);
});
</script>
</body></html>
